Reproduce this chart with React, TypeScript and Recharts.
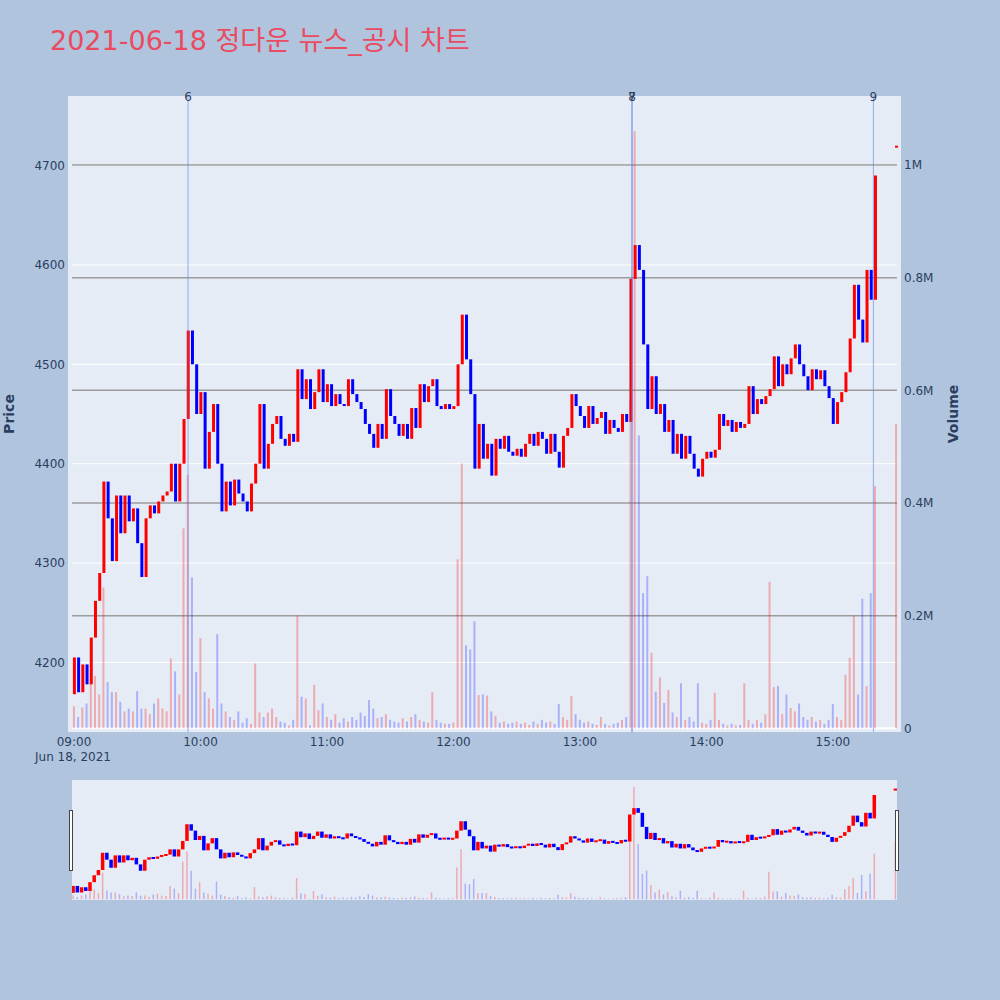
import React from "react"
import { ComposedChart, Bar, XAxis, YAxis, ReferenceLine, Cell } from "recharts"

// 2-minute candles from 09:00, close prices
const closes = [
  4205, 4170, 4198, 4178, 4225, 4262, 4290, 4382, 4345, 4302,
  4368, 4330, 4368, 4342, 4355, 4320, 4286, 4345, 4358, 4350,
  4362, 4368, 4372, 4400, 4362, 4400, 4445, 4534, 4500, 4450,
  4472, 4395, 4432, 4460, 4400, 4352, 4382, 4358, 4384, 4370,
  4362, 4352, 4380, 4400, 4460, 4395, 4420, 4440, 4448, 4425,
  4418, 4430, 4422, 4495, 4465, 4485, 4455, 4472, 4495, 4462,
  4480, 4458, 4470, 4460, 4458, 4485, 4470, 4462, 4455, 4440,
  4430, 4416, 4440, 4425, 4475, 4448, 4440, 4428, 4440, 4425,
  4456, 4436, 4480, 4462, 4478, 4485, 4458, 4455, 4460, 4455,
  4458, 4500, 4550, 4505, 4470, 4395, 4440, 4405, 4420, 4388,
  4425, 4415, 4428, 4412, 4408, 4415, 4407, 4420, 4430, 4418,
  4432, 4425, 4410, 4430, 4412, 4396, 4428, 4436, 4470, 4458,
  4448, 4436, 4458, 4440, 4446, 4452, 4430, 4444, 4436, 4432,
  4450, 4442, 4586, 4620, 4595, 4520, 4455, 4488, 4450, 4460,
  4432, 4444, 4410, 4430, 4405, 4428, 4410, 4395, 4387, 4405,
  4412, 4406, 4414, 4450, 4438, 4444, 4432, 4442, 4436, 4440,
  4478, 4450, 4465, 4460, 4468, 4475, 4508, 4478, 4500, 4490,
  4506, 4520, 4500, 4488, 4474, 4495, 4485, 4494, 4478, 4466,
  4440, 4462, 4472, 4492, 4526, 4580, 4545, 4522, 4595, 4565,
  4690,
]

// volume per candle, thousands of shares
const volumesK = [
  39, 20, 37, 44, 80, 93, 60, 250, 82, 64,
  64, 47, 30, 35, 30, 66, 35, 35, 25, 44,
  53, 35, 30, 124, 101, 60, 355, 450, 268, 100,
  160, 64, 53, 35, 167, 44, 30, 20, 15, 30,
  10, 18, 8, 115, 28, 20, 28, 35, 20, 12,
  10, 5, 15, 200, 56, 53, 5, 77, 32, 44,
  20, 15, 25, 10, 18, 12, 20, 15, 28, 22,
  50, 35, 18, 20, 25, 15, 12, 10, 18, 12,
  20, 25, 15, 12, 10, 64, 15, 10, 8, 8,
  10, 300, 470, 147, 140, 190, 59, 60, 58, 30,
  22, 10, 12, 8, 10, 12, 8, 10, 6, 12,
  8, 15, 10, 12, 8, 43, 20, 15, 57, 25,
  15, 10, 12, 8, 6, 20, 8, 5, 8, 10,
  15, 20, 580, 1060, 520, 240, 270, 134, 65, 90,
  45, 68, 28, 20, 80, 15, 20, 12, 80, 10,
  8, 15, 63, 15, 8, 5, 8, 5, 6, 80,
  15, 8, 15, 10, 25, 260, 73, 75, 25, 60,
  36, 30, 44, 20, 15, 20, 12, 15, 8, 15,
  43, 20, 15, 95, 125, 200, 60, 230, 75, 240,
  430,
]

const firstOpen = 4168
const stepMinutes = 2
// closing auction at 15:30
const auction = { t: 390, open: 4718, close: 4720, volumeK: 540 }

const priceTicks = [4200, 4300, 4400, 4500, 4600, 4700]
const volumeTicks = [0, 200000, 400000, 600000, 800000, 1000000]
const timeTicks = [0, 60, 120, 180, 240, 300, 360]
const timeLabels = ["09:00", "10:00", "11:00", "12:00", "13:00", "14:00", "15:00"]

// news / disclosure markers (minutes after 09:00)
const notes = [
  { t: 54.1, label: "6" },
  { t: 264.7, label: "7" },
  { t: 264.7, label: "8" },
  { t: 379.2, label: "9" },
]

const MAIN_X: [number, number] = [-2.85, 392.3]
const SLIDER_X: [number, number] = [-0.7, 390.6]
const GRID_X: [number, number] = [-0.95, 390.4]
const PRICE_DOMAIN: [number, number] = [4130, 4770]
const VOL_DOMAIN: [number, number] = [-6600, 1122500]

const FONT = "'DejaVu Sans', Verdana, sans-serif"
const TITLE_FONT = "'DejaVu Sans', 'Noto Sans CJK KR', sans-serif"
const INK = "#2a3f5f"
const UP = "#ff0000"
const DOWN = "#0000ff"
const VOL_UP = "rgba(255,0,0,0.28)"
const VOL_DOWN = "rgba(0,0,255,0.25)"
const NOTE_LINE = "rgba(90,125,235,0.6)"

type Row = {
  t: number
  open: number
  close: number
  range: [number, number]
  volume: number
  up: boolean
}

const makeRow = (t: number, open: number, close: number, volK: number): Row => ({
  t,
  open,
  close,
  range: [Math.min(open, close), Math.max(open, close)],
  volume: volK * 1000,
  up: close >= open,
})

const rows: Row[] = closes.map((close, i) =>
  makeRow(i * stepMinutes, i === 0 ? firstOpen : closes[i - 1], close, volumesK[i])
)
rows.push(makeRow(auction.t, auction.open, auction.close, auction.volumeK))

const Candle = (props: any) => {
  const { x, y, width, height, payload } = props
  if (x == null || y == null || !payload) return null
  const h = Math.max(height, 2)
  return (
    <rect
      x={x}
      y={y - (h - height) / 2}
      width={width}
      height={h}
      fill={payload.up ? UP : DOWN}
    />
  )
}

const TimeTick = (props: any) => {
  const { x, y, payload } = props
  const idx = timeTicks.indexOf(payload.value)
  return (
    <g>
      <text x={x} y={y + 14} textAnchor="middle" fill={INK} fontSize={12} fontFamily={FONT}>
        {timeLabels[idx]}
      </text>
      {idx === 0 && (
        <text x={x - 1} y={y + 29} textAnchor="middle" fill={INK} fontSize={12} fontFamily={FONT}>
          Jun 18, 2021
        </text>
      )}
    </g>
  )
}

const fmtVol = (v: number) => (v === 0 ? "0" : v === 1000000 ? "1M" : `${v / 1000000}M`)

const abs = (left: number, top: number): React.CSSProperties => ({
  position: "absolute",
  left,
  top,
})

const tickStyle = { fill: INK, fontSize: 12, fontFamily: FONT }

function VolumeLayer({ w, h, margin, xDomain, barSize }: any) {
  return (
    <ComposedChart width={w} height={h} data={rows} margin={margin}>
      <XAxis dataKey="t" type="number" domain={xDomain} hide allowDataOverflow />
      <YAxis yAxisId="vol" domain={VOL_DOMAIN} hide allowDataOverflow />
      <Bar yAxisId="vol" dataKey="volume" barSize={barSize} isAnimationActive={false}>
        {rows.map((r, i) => (
          <Cell key={i} fill={r.up ? VOL_UP : VOL_DOWN} />
        ))}
      </Bar>
    </ComposedChart>
  )
}

function CandleLayer({ w, h, margin, xDomain, barSize, withNotes }: any) {
  return (
    <ComposedChart width={w} height={h} data={rows} margin={margin}>
      <XAxis dataKey="t" type="number" domain={xDomain} hide allowDataOverflow />
      <YAxis yAxisId="price" domain={PRICE_DOMAIN} hide allowDataOverflow />
      <Bar
        yAxisId="price"
        dataKey="range"
        barSize={barSize}
        shape={Candle}
        isAnimationActive={false}
      />
      {withNotes &&
        notes.map((n) => (
          <ReferenceLine
            key={n.label}
            x={n.t}
            yAxisId="price"
            stroke={NOTE_LINE}
            strokeWidth={1}
            label={{ value: n.label, position: "top", offset: -5, fill: INK, fontSize: 12, fontFamily: FONT }}
          />
        ))}
    </ComposedChart>
  )
}

export default function App() {
  const mainMargin = { top: 96, right: 99, bottom: 68, left: 68 }
  const sliderMargin = { top: 0, right: 0, bottom: 0, left: 0 }
  return (
    <div style={{ position: "absolute", left: 0, top: 0, width: 1000, height: 1000, background: "#b0c4de", overflow: "hidden" }}>
      {/* plot backgrounds */}
      <div style={{ ...abs(68, 96), width: 833, height: 636, background: "#e5ecf6" }} />
      <div style={{ ...abs(72, 780), width: 825, height: 120, background: "#e5ecf6" }} />

      {/* axes and grid */}
      <div style={abs(0, 0)}>
        <ComposedChart width={1000} height={800} data={rows} margin={{ top: 96, right: 39, bottom: 38, left: 8 }}>
          <XAxis
            dataKey="t"
            type="number"
            domain={MAIN_X}
            ticks={timeTicks}
            interval={0}
            allowDataOverflow
            tickLine={false}
            axisLine={false}
            tickSize={0}
            tickMargin={0}
            height={30}
            tick={<TimeTick />}
          />
          <YAxis
            yAxisId="price"
            domain={PRICE_DOMAIN}
            ticks={priceTicks}
            interval={0}
            allowDataOverflow
            width={60}
            tickLine={false}
            axisLine={false}
            tickSize={0}
            tickMargin={3}
            tick={tickStyle}
          />
          <YAxis
            yAxisId="vol"
            orientation="right"
            domain={VOL_DOMAIN}
            ticks={volumeTicks}
            interval={0}
            allowDataOverflow
            width={60}
            tickLine={false}
            axisLine={false}
            tickSize={0}
            tickMargin={3}
            tick={tickStyle}
            tickFormatter={fmtVol}
          />
          {priceTicks.map((p) => (
            <ReferenceLine
              key={`p${p}`}
              yAxisId="price"
              segment={[{ x: GRID_X[0], y: p }, { x: GRID_X[1], y: p }]}
              stroke="#ffffff"
              strokeWidth={1}
            />
          ))}
          {volumeTicks.map((v) => (
            <ReferenceLine
              key={`v${v}`}
              yAxisId="vol"
              segment={[{ x: GRID_X[0], y: v }, { x: GRID_X[1], y: v }]}
              stroke={v === 0 ? "#ffffff" : "#9c9c9c"}
              strokeWidth={v === 0 ? 2 : 1.5}
            />
          ))}
        </ComposedChart>
      </div>

      <div style={abs(0, 0)}>
        <VolumeLayer w={1000} h={800} margin={mainMargin} xDomain={MAIN_X} barSize={2} />
      </div>
      <div style={abs(0, 0)}>
        <CandleLayer w={1000} h={800} margin={mainMargin} xDomain={MAIN_X} barSize={3} withNotes />
      </div>

      {/* range slider overview */}
      <div style={abs(72, 780)}>
        <VolumeLayer w={825} h={120} margin={sliderMargin} xDomain={SLIDER_X} barSize={1.5} />
      </div>
      <div style={abs(72, 780)}>
        <CandleLayer w={825} h={120} margin={sliderMargin} xDomain={SLIDER_X} barSize={3.5} withNotes={false} />
      </div>

      <svg width={1000} height={1000} style={{ ...abs(0, 0), pointerEvents: "none" }}>
        <text x={50} y={50} fill="#ea4b60" fontSize={27} fontFamily={TITLE_FONT}>
          2021-06-18 정다운 뉴스_공시 차트
        </text>
        <text
          x={9}
          y={414}
          transform="rotate(-90 9 414)"
          textAnchor="middle"
          dominantBaseline="central"
          fill={INK}
          fontSize={14}
          fontWeight="bold"
          fontFamily={FONT}
        >
          Price
        </text>
        <text
          x={953}
          y={414}
          transform="rotate(-90 953 414)"
          textAnchor="middle"
          dominantBaseline="central"
          fill={INK}
          fontSize={14}
          fontWeight="bold"
          fontFamily={FONT}
        >
          Volume
        </text>
        <rect x={69.5} y={810.5} width={3} height={60} fill="#ffffff" stroke="#444" strokeWidth={1} />
        <rect x={895.5} y={810.5} width={3} height={60} fill="#ffffff" stroke="#444" strokeWidth={1} />
      </svg>
    </div>
  )
}
